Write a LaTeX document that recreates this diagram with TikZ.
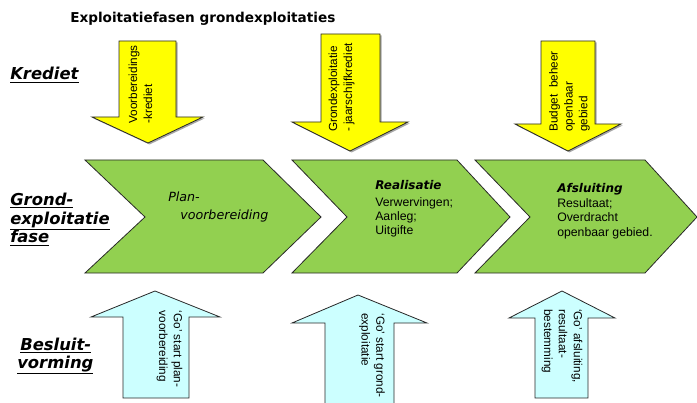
\documentclass[tikz,border=0pt]{standalone}
\usepackage{fontspec}
\setmainfont{Liberation Sans}
\newfontfamily\vfont{DejaVu Sans}
\definecolor{ylw}{RGB}{255,255,0}
\definecolor{grn}{RGB}{146,208,80}
\definecolor{cyn}{RGB}{204,255,255}
\definecolor{edge}{RGB}{40,40,40}
\tikzset{
  yarrow/.style={fill=ylw, draw=edge, line width=0.6pt, line join=miter},
  yshadow/.style={fill=black!35, draw=none},
  chev/.style={fill=grn, draw=edge, line width=0.6pt},
  barrow/.style={fill=cyn, draw=edge, line width=0.6pt},
  atext/.style={font=\fontsize{8.8}{11.2}\selectfont, align=left, inner sep=0pt},
  ctext/.style={font=\fontsize{9.2}{10.5}\selectfont, anchor=base west, inner sep=0pt},
  chead/.style={font=\vfont\bfseries\itshape\fontsize{9}{10.5}\selectfont, anchor=base west, inner sep=0pt},
  cital/.style={font=\vfont\itshape\fontsize{9.5}{11}\selectfont, anchor=base west, inner sep=0pt},
  side/.style={font=\vfont\bfseries\itshape\fontsize{12.3}{14}\selectfont, anchor=base west, inner sep=0pt},
}
\begin{document}
\begin{tikzpicture}[x=0.75pt,y=-0.75pt]
\useasboundingbox (0,0) rectangle (697,403);

% title
\node[font=\vfont\bfseries\fontsize{10.2}{12}\selectfont, anchor=base west, inner sep=0pt] (title) at (70,23) {Exploitatiefasen grondexploitaties};

% side labels
\node[side] (kr) at (10,80) {\underline{Krediet}};
\node[side] (g1) at (10,205) {\underline{Grond-}};
\node[side] (g2) at (10,224) {\underline{exploitatie}};
\node[side] (g3) at (10,243) {\underline{fase}};
\node[side] (b1) at (20,350) {\underline{Besluit-}};
\node[side] (b2) at (17,368) {\underline{vorming}};

% yellow arrows (with light shadow)
\begin{scope}[shift={(1.5,1.5)}]
\fill[yshadow] (119,41) -- (176,41) -- (176,117) -- (203,117) -- (148,143) -- (92,117) -- (119,117) -- cycle;
\fill[yshadow] (321,34) -- (380,34) -- (380,122) -- (408,122) -- (350,151) -- (292,122) -- (321,122) -- cycle;
\fill[yshadow] (541,41) -- (595,41) -- (595,124) -- (621,124) -- (568,151) -- (515,124) -- (541,124) -- cycle;
\end{scope}
\draw[yarrow] (119,41) -- (176,41) -- (176,117) -- (203,117) -- (148,143) -- (92,117) -- (119,117) -- cycle;
\draw[yarrow] (321,34) -- (380,34) -- (380,122) -- (408,122) -- (350,151) -- (292,122) -- (321,122) -- cycle;
\draw[yarrow] (541,41) -- (595,41) -- (595,124) -- (621,124) -- (568,151) -- (515,124) -- (541,124) -- cycle;

\node[atext, rotate=90] (y1) at (140.5,84.5) {Voorbereidings\\-krediet};
\node[atext, rotate=90] (y2) at (341.5,87.5) {Grondexploitatie\\- jaarschijfkrediet};
\node[atext, rotate=90] (y3) at (569.5,91.5) {Budget\hspace{0.55em}beheer\\openbaar\\gebied};

% green chevrons
\draw[chev] (85,160) -- (263,160) -- (321,217) -- (263,273) -- (85,273) -- (145,217) -- cycle;
\draw[chev] (292,160) -- (457,160) -- (510,217) -- (457,273) -- (292,273) -- (347,217) -- cycle;
\draw[chev] (475,160) -- (645,160) -- (697,217) -- (645,273) -- (475,273) -- (530,217) -- cycle;

\node[cital] (p1) at (168,201.5) {Plan-};
\node[cital] (p2) at (180,219.5) {voorbereiding};

\node[chead] (r0) at (375,190) {Realisatie};
\node[ctext] (r1) at (375,206.5) {Verwervingen;};
\node[ctext] (r2) at (375,220.5) {Aanleg;};
\node[ctext] (r3) at (375,234.5) {Uitgifte};

\node[chead] (a0) at (557,193) {Afsluiting};
\node[ctext] (a1) at (557,207.5) {Resultaat;};
\node[ctext] (a2) at (557,221.5) {Overdracht};
\node[ctext] (a3) at (557,236.5) {openbaar gebied.};

% blue arrows
\draw[barrow] (155,291) -- (220,317) -- (189,317) -- (189,398) -- (123,398) -- (123,317) -- (91,317) -- cycle;
\draw[barrow] (358,295) -- (427,323) -- (394,323) -- (394,406) -- (325,406) -- (325,323) -- (292,323) -- cycle;
\draw[barrow] (562,291) -- (615,318) -- (588,318) -- (588,398) -- (535,398) -- (535,318) -- (509,318) -- cycle;

\node[atext, rotate=-90] (d1) at (169.5,349) {`Go' start plan-\\voorbereiding};
\node[atext, rotate=-90] (d2) at (372,355.5) {`Go' start grond-\\exploitatie};
\node[atext, rotate=-90] (d3) at (562,346) {`Go' afsluiting,\\resultaat-\\bestemming};
\end{tikzpicture}
\end{document}
